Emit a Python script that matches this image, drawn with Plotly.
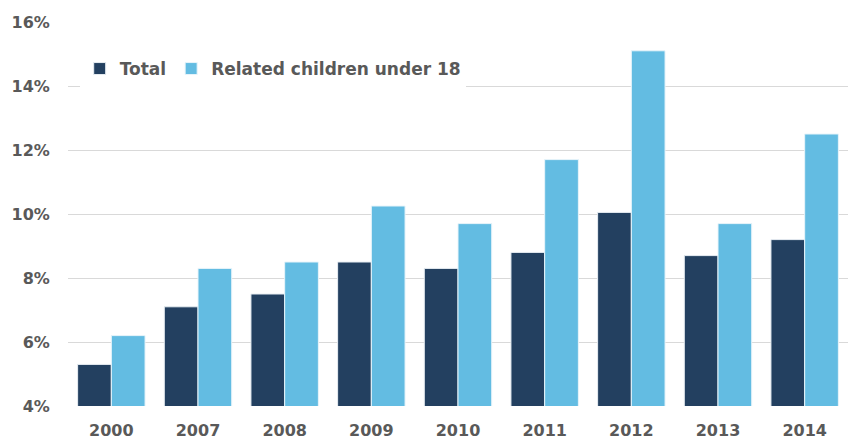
import plotly.graph_objects as go

years = ["2000", "2007", "2008", "2009", "2010", "2011", "2012", "2013", "2014"]
total = [5.3, 7.1, 7.5, 8.5, 8.3, 8.8, 10.05, 8.7, 9.2]
children = [6.2, 8.3, 8.5, 10.25, 9.7, 11.7, 15.1, 9.7, 12.5]
y_ticks = [4, 6, 8, 10, 12, 14, 16]
y_labels = [f"{v}%" for v in y_ticks]

DARK = "#234060"
LIGHT = "#63BCE2"
TEXT = "#595959"
FONT = "DejaVu Sans"

fig = go.Figure()
fig.add_trace(go.Bar(name="Total", x=years, y=total,
                     marker=dict(color=DARK, line=dict(color="#e8eef3", width=1))))
fig.add_trace(go.Bar(name="Related children under 18", x=years, y=children,
                     marker=dict(color=LIGHT, line=dict(color="#e8f4fa", width=1))))

fig.update_layout(
    width=848, height=441,
    margin=dict(l=68, r=0, t=22, b=35, autoexpand=False),
    paper_bgcolor="white", plot_bgcolor="white",
    barmode="group", bargap=0.222, bargroupgap=0.0,
    font=dict(family=FONT, color=TEXT, size=16, weight="bold"),
    showlegend=True,
    legend=dict(orientation="h", xref="paper", yref="paper",
                x=0.015, y=(406 - 69) / 384, xanchor="left", yanchor="middle",
                bgcolor="white", font=dict(size=17, color=TEXT, weight="bold"),
                itemwidth=30, traceorder="normal"),
    xaxis=dict(showgrid=False, showline=False, ticks="outside", ticklen=10,
               tickcolor="rgba(0,0,0,0)",
               tickfont=dict(size=16, color=TEXT, weight="bold")),
    yaxis=dict(range=[4, 16], tickmode="array", tickvals=y_ticks, ticktext=y_labels,
               showgrid=True, gridcolor="#d9d9d9", gridwidth=1,
               zeroline=False, showline=False, ticks="outside", ticklen=14,
               tickcolor="rgba(0,0,0,0)",
               tickfont=dict(size=16, color=TEXT, weight="bold")),
)

fig.write_html("out.html")
